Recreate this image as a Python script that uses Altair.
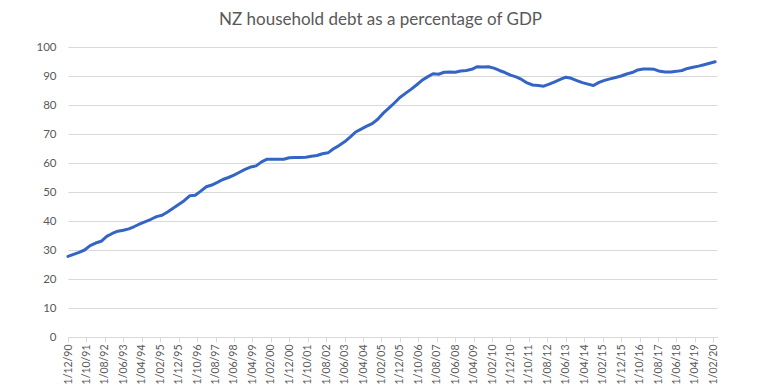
import altair as alt
import pandas as pd

# Quarter index (months since Dec 1990, quarterly)
months = list(range(0, 352, 3))
debt_pct = [
    27.8, 28.5, 29.2, 30.0, 31.5, 32.4, 33.0, 34.7, 35.7, 36.5,
    36.8, 37.3, 38.1, 39.0, 39.8, 40.6, 41.5, 42.0, 43.1, 44.4,
    45.7, 47.0, 48.7, 48.9, 50.3, 51.8, 52.4, 53.3, 54.3, 55.0,
    55.8, 56.8, 57.8, 58.6, 59.0, 60.4, 61.3, 61.3, 61.3, 61.3,
    61.8, 61.9, 61.9, 62.0, 62.3, 62.6, 63.2, 63.5, 64.9, 66.0,
    67.3, 68.9, 70.7, 71.7, 72.7, 73.6, 75.1, 77.2, 78.9, 80.7,
    82.6, 84.0, 85.4, 86.9, 88.5, 89.7, 90.8, 90.6, 91.3, 91.4,
    91.3, 91.7, 91.9, 92.3, 93.2, 93.1, 93.2, 92.7, 91.9, 91.2,
    90.3, 89.7, 88.8, 87.6, 86.9, 86.7, 86.5, 87.2, 88.0, 88.8,
    89.6, 89.2, 88.4, 87.7, 87.2, 86.7, 87.8, 88.5, 89.0, 89.5,
    90.0, 90.7, 91.2, 92.1, 92.4, 92.4, 92.3, 91.6, 91.4, 91.4,
    91.6, 91.9, 92.6, 93.0, 93.4, 93.9, 94.4, 94.9,
]

tick_labels = [
    "1/12/90", "1/10/91", "1/08/92", "1/06/93", "1/04/94", "1/02/95",
    "1/12/95", "1/10/96", "1/08/97", "1/06/98", "1/04/99", "1/02/00",
    "1/12/00", "1/10/01", "1/08/02", "1/06/03", "1/04/04", "1/02/05",
    "1/12/05", "1/10/06", "1/08/07", "1/06/08", "1/04/09", "1/02/10",
    "1/12/10", "1/10/11", "1/08/12", "1/06/13", "1/04/14", "1/02/15",
    "1/12/15", "1/10/16", "1/08/17", "1/06/18", "1/04/19", "1/02/20",
]
tick_step = 10  # months between labels
tick_values = [i * tick_step for i in range(len(tick_labels))]

df = pd.DataFrame({"month": months, "debt": debt_pct})

label_array = "[" + ",".join("'" + t + "'" for t in tick_labels) + "]"
label_expr = label_array + "[round(datum.value / " + str(tick_step) + ")]"

FONT = "Lato"
GREY = "#595959"

chart = (
    alt.Chart(df)
    .mark_line(color="#3565C4", strokeWidth=3, strokeJoin="round", strokeCap="round")
    .encode(
        x=alt.X(
            "month:Q",
            scale=alt.Scale(domain=[0, 352], nice=False, zero=False),
            axis=alt.Axis(
                values=tick_values,
                labelExpr=label_expr,
                labelAngle=270,
                labelAlign="right",
                labelBaseline="middle",
                labelPadding=2,
                labelFont=FONT,
                labelFontSize=10.5,
                labelColor=GREY,
                labelOverlap=False,
                labelFlush=False,
                labelBound=False,
                grid=False,
                domainColor="#d9d9d9",
                domainWidth=1,
                tickColor="#d9d9d9",
                tickSize=5,
                title=None,
            ),
        ),
        y=alt.Y(
            "debt:Q",
            scale=alt.Scale(domain=[0, 100], nice=False),
            axis=alt.Axis(
                values=list(range(0, 101, 10)),
                labelFont=FONT,
                labelFontSize=11.5,
                labelColor=GREY,
                labelPadding=12,
                ticks=False,
                domain=False,
                gridColor="#d9d9d9",
                gridWidth=1,
                title=None,
            ),
        ),
    )
    .properties(
        width=649,
        height=290,
        title=alt.TitleParams(
            "NZ household debt as a percentage of GDP",
            font=FONT,
            fontSize=17,
            fontWeight="normal",
            color=GREY,
            anchor="middle",
            dx=-12,
            offset=12,
        ),
        autosize=alt.AutoSizeParams(type="none"),
        padding={"left": 60, "top": 39, "right": 35, "bottom": 54},
    )
    .configure_view(stroke=None)
)

chart.save("out.html", embed_options={"renderer": "svg", "actions": False})
